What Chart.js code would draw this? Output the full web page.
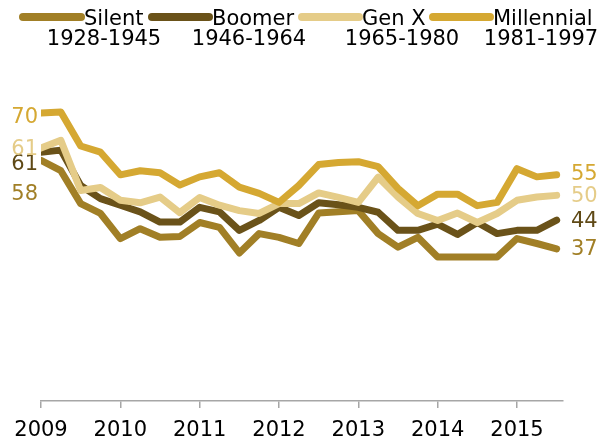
<!DOCTYPE html>
<html>
<head>
<meta charset="utf-8">
<script src="https://cdn.jsdelivr.net/npm/chart.js@4.4.0/dist/chart.umd.min.js"></script>
<style>
html, body { margin: 0; padding: 0; background: #fff; }
#wrap { width: 608px; height: 443px; position: relative; }
</style>
</head>
<body>
<div id="wrap"><canvas id="gen-chart"></canvas></div>
<script>
// quarterly readings, 2009 Q1 through 2015 Q3
var periods = [2009, 2009.25, 2009.5, 2009.75, 2010, 2010.25, 2010.5, 2010.75,
    2011, 2011.25, 2011.5, 2011.75, 2012, 2012.25, 2012.5, 2012.75,
    2013, 2013.25, 2013.5, 2013.75, 2014, 2014.25, 2014.5, 2014.75,
    2015, 2015.25, 2015.5];

var silent = [58.5, 56, 48, 45.6, 39.5, 41.9, 39.8, 40, 43.4, 42.2, 36, 40.7, 39.8, 38.3,
    45.7, 46, 46.3, 40.7, 37.4, 39.8, 35, 35, 35, 35, 39.5, 38.3, 37];
var boomer = [60.5, 61, 52.4, 49.2, 47.6, 46, 43.5, 43.5, 47.1, 46, 41.5, 43.9, 47.1, 45.1,
    48.2, 47.7, 47.1, 45.9, 41.5, 41.5, 43, 40.5, 43.4, 40.7, 41.5, 41.5, 44];
var genX = [61.5, 63.4, 51.2, 51.9, 48.8, 48.2, 49.6, 45.8, 49.5, 47.6, 46.3, 45.6, 48, 48,
    50.6, 49.5, 48.3, 54.4, 49.6, 45.6, 43.9, 45.7, 43.4, 45.6, 48.8, 49.6, 50];
var millennial = [70, 70.3, 62, 60.5, 55, 56, 55.5, 52.5, 54.5, 55.5, 52, 50.5, 48.3, 52.4,
    57.5, 58, 58.2, 57, 51.7, 47.5, 50.3, 50.3, 47.5, 48.3, 56.5, 54.5, 55];

var seriesNames = ['Silent', 'Boomer', 'Gen X', 'Millennial'];
var seriesYears = ['1928-1945', '1946-1964', '1965-1980', '1981-1997'];
var startLabels = ['58', '61', '61', '70'];
var endLabels = ['37', '44', '50', '55'];
var yearTicks = [2009, 2010, 2011, 2012, 2013, 2014, 2015];

var colors = ['#a17f26', '#6a5219', '#e5cc88', '#d5a832'];
var labelColors = ['#a17f26', '#5f4916', '#e5cc88', '#d5a832'];
var FONT = '"DejaVu Sans", "Liberation Sans", Arial, sans-serif';

function toPoints(values) {
    var pts = [];
    for (var i = 0; i < values.length; i++) {
        pts.push({ x: periods[i], y: values[i] });
    }
    return pts;
}

// legend drawn across the top, two lines per item
var legendItems = [
    { lineFrom: 23, lineTo: 81, text: 84, years: 104 },
    { lineFrom: 152, lineTo: 209, text: 212, years: 249 },
    { lineFrom: 302, lineTo: 359, text: 362, years: 402 },
    { lineFrom: 433, lineTo: 490, text: 493, years: 541 }
];

var topLegend = {
    id: 'topLegend',
    afterDraw: function (chart) {
        var ctx = chart.ctx;
        ctx.save();
        for (var i = 0; i < legendItems.length; i++) {
            var it = legendItems[i];
            ctx.strokeStyle = colors[i];
            ctx.lineWidth = 8;
            ctx.lineCap = 'round';
            ctx.beginPath();
            ctx.moveTo(it.lineFrom, 17);
            ctx.lineTo(it.lineTo, 17);
            ctx.stroke();
            ctx.fillStyle = '#000';
            ctx.font = '21px ' + FONT;
            ctx.textBaseline = 'alphabetic';
            ctx.textAlign = 'left';
            ctx.fillText(seriesNames[i], it.text, 25);
            ctx.textAlign = 'center';
            ctx.fillText(seriesYears[i], it.years, 45);
        }
        ctx.restore();
    }
};

// value labels at both ends of each line
var startOffsets = [34, 12, 1, 4];
var endOffsets = [1, 1, 1, 0];

var endLabelPlugin = {
    id: 'endLabels',
    afterDatasetsDraw: function (chart) {
        var ctx = chart.ctx;
        ctx.save();
        ctx.font = '21px ' + FONT;
        ctx.textBaseline = 'middle';
        for (var i = 0; i < chart.data.datasets.length; i++) {
            var pts = chart.getDatasetMeta(i).data;
            var first = pts[0];
            var last = pts[pts.length - 1];
            ctx.fillStyle = labelColors[i];
            ctx.textAlign = 'right';
            ctx.fillText(startLabels[i], 38, first.y + startOffsets[i]);
            ctx.textAlign = 'left';
            ctx.fillText(endLabels[i], 571, last.y + endOffsets[i]);
        }
        ctx.restore();
    }
};

var seriesValues = [silent, boomer, genX, millennial];
var datasets = [];
for (var s = 0; s < seriesValues.length; s++) {
    datasets.push({
        label: seriesNames[s],
        data: toPoints(seriesValues[s]),
        borderColor: colors[s],
        backgroundColor: colors[s],
        borderWidth: 7,
        borderCapStyle: 'round',
        borderJoinStyle: 'round',
        pointRadius: 0,
        tension: 0,
        order: 4 - s
    });
}

var ctx = document.getElementById('gen-chart').getContext('2d');
var chart = new Chart(ctx, {
    type: 'line',
    data: { datasets: datasets },
    options: {
        responsive: true,
        maintainAspectRatio: false,
        animation: false,
        layout: { padding: { left: 41, right: 45, top: 72, bottom: 0 } },
        plugins: {
            legend: { display: false },
            tooltip: { enabled: false }
        },
        scales: {
            x: {
                type: 'linear',
                min: 2009,
                max: 2015.58,
                afterBuildTicks: function (scale) {
                    scale.ticks = yearTicks.map(function (v) { return { value: v }; });
                },
                afterFit: function (scale) {
                    scale.height = 42;
                },
                grid: {
                    drawOnChartArea: false,
                    drawTicks: true,
                    tickLength: 7,
                    color: '#a6a6a6',
                    lineWidth: 1.5
                },
                border: { display: true, color: '#a6a6a6', width: 1.5 },
                ticks: {
                    padding: 10,
                    color: '#000',
                    maxRotation: 0,
                    autoSkip: false,
                    font: { family: FONT, size: 21 },
                    callback: function (value) { return String(value); }
                }
            },
            y: {
                display: false,
                min: 0,
                max: 80
            }
        }
    },
    plugins: [topLegend, endLabelPlugin]
});
</script>
</body>
</html>
